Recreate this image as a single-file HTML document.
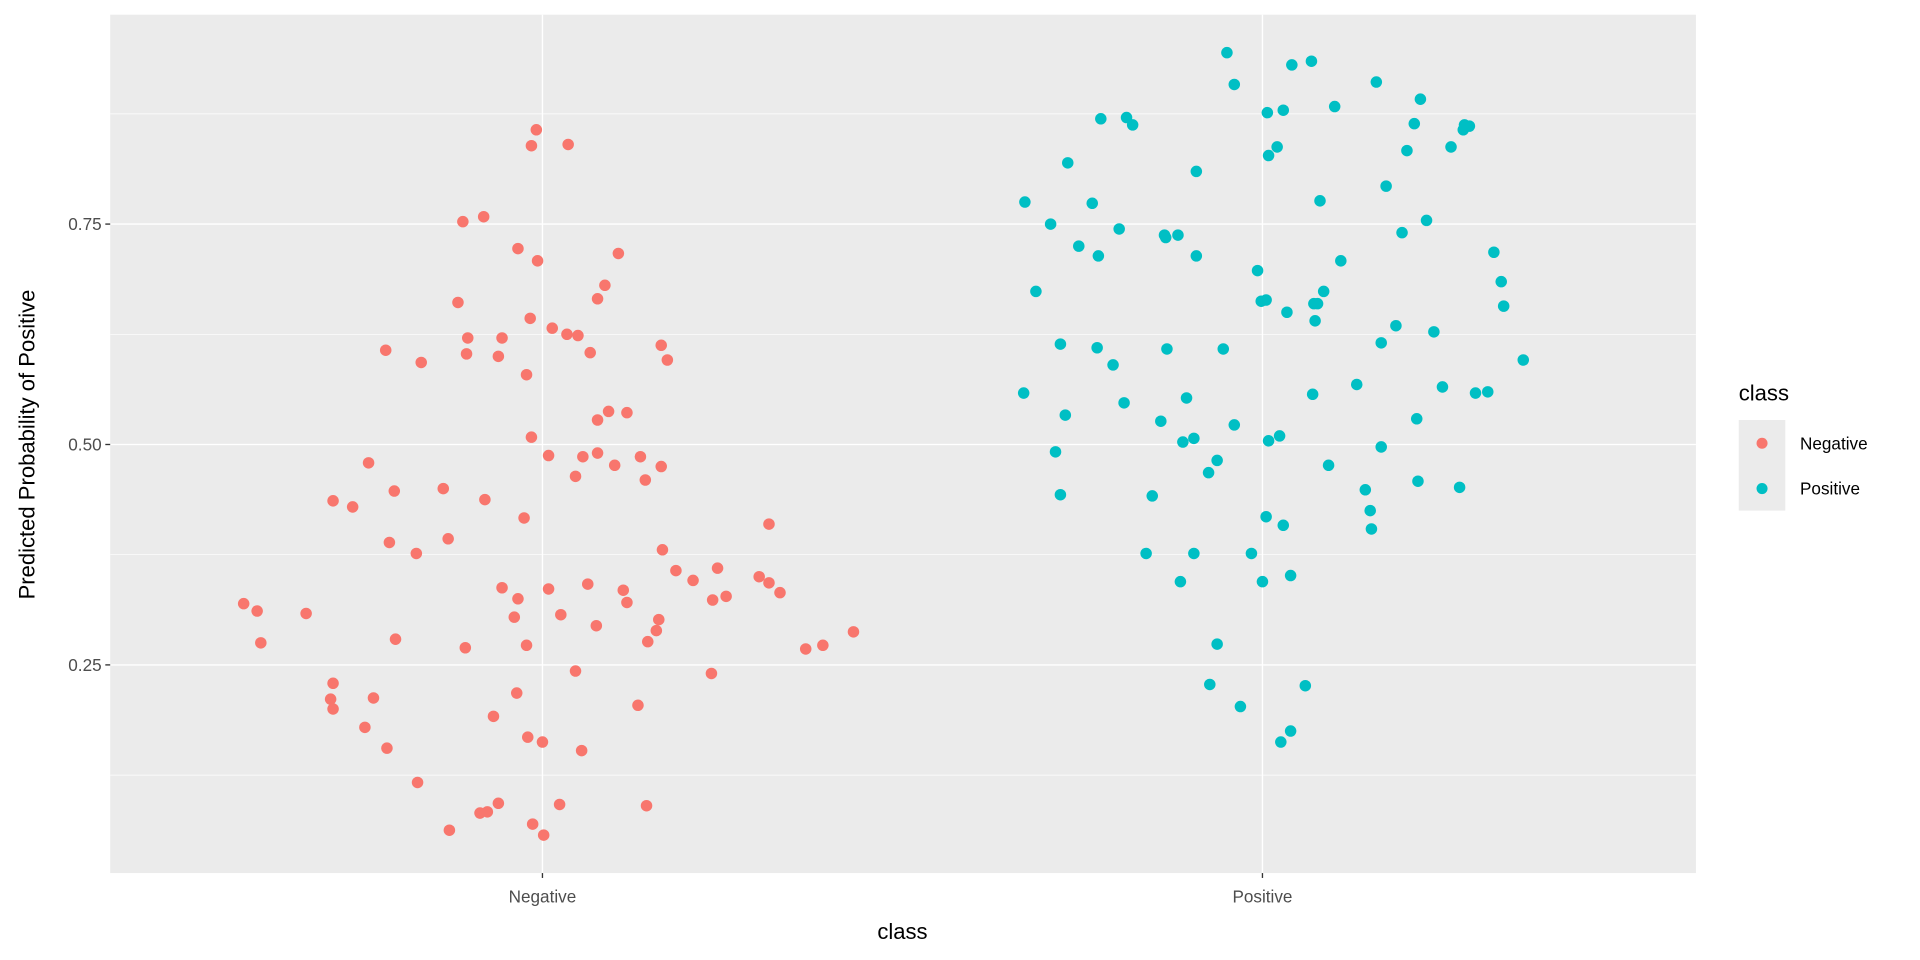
<!DOCTYPE html>
<html><head><meta charset="utf-8"><style>html,body{margin:0;padding:0;background:#fff;}svg{display:block;}</style></head>
<body>
<svg width="1920" height="960" viewBox="0 0 1568 784" xmlns="http://www.w3.org/2000/svg" font-family="Liberation Sans, sans-serif">
<rect x="0" y="0" width="1568" height="784" fill="#fff"/>
<rect x="90" y="12" width="1295" height="701" fill="#EBEBEB"/>
<g stroke="#fff" stroke-width="0.55">
<line x1="90" x2="1385" y1="633" y2="633"/><line x1="90" x2="1385" y1="453" y2="453"/><line x1="90" x2="1385" y1="273" y2="273"/><line x1="90" x2="1385" y1="93" y2="93"/>
</g>
<g stroke="#fff" stroke-width="1.1">
<line x1="90" x2="1385" y1="543" y2="543"/><line x1="90" x2="1385" y1="363" y2="363"/><line x1="90" x2="1385" y1="183" y2="183"/>
<line x1="443" x2="443" y1="12" y2="713"/><line x1="1031" x2="1031" y1="12" y2="713"/>
</g>
<g stroke="#333" stroke-width="1.1">
<line x1="86" x2="90" y1="543" y2="543"/><line x1="86" x2="90" y1="363" y2="363"/><line x1="86" x2="90" y1="183" y2="183"/>
<line x1="443" x2="443" y1="713" y2="717"/><line x1="1031" x2="1031" y1="713" y2="717"/>
</g>
<g fill="#4D4D4D" font-size="14" text-anchor="end">
<text x="83" y="548">0.25</text><text x="83" y="368">0.50</text><text x="83" y="188">0.75</text>
</g>
<g fill="#4D4D4D" font-size="14" text-anchor="middle">
<text x="443" y="737">Negative</text><text x="1031" y="737">Positive</text>
</g>
<text x="737" y="767" font-size="18" text-anchor="middle">class</text>
<text transform="translate(28,363) rotate(-90)" font-size="18" text-anchor="middle">Predicted Probability of Positive</text>
<g fill="#F8766D" id="neg">
<script type="text/plain"></script>
</g>
<text x="1420" y="327" font-size="18">class</text>
<rect x="1420" y="343" width="38" height="74" fill="#EBEBEB"/>
<circle cx="1439" cy="362" r="4.5" fill="#F8766D"/><circle cx="1439" cy="399" r="4.5" fill="#00BFC4"/>
<text x="1470" y="367" font-size="14">Negative</text><text x="1470" y="404" font-size="14">Positive</text>
<g fill="#F8766D">
<circle cx="438" cy="106" r="4.7"/><circle cx="434" cy="119" r="4.7"/><circle cx="464" cy="118" r="4.7"/><circle cx="378" cy="181" r="4.7"/><circle cx="395" cy="177" r="4.7"/><circle cx="423" cy="203" r="4.7"/><circle cx="439" cy="213" r="4.7"/><circle cx="505" cy="207" r="4.7"/><circle cx="374" cy="247" r="4.7"/><circle cx="494" cy="233" r="4.7"/><circle cx="488" cy="244" r="4.7"/><circle cx="433" cy="260" r="4.7"/><circle cx="451" cy="268" r="4.7"/><circle cx="463" cy="273" r="4.7"/><circle cx="472" cy="274" r="4.7"/><circle cx="410" cy="276" r="4.7"/><circle cx="382" cy="276" r="4.7"/><circle cx="315" cy="286" r="4.7"/><circle cx="344" cy="296" r="4.7"/><circle cx="381" cy="289" r="4.7"/><circle cx="407" cy="291" r="4.7"/><circle cx="482" cy="288" r="4.7"/><circle cx="540" cy="282" r="4.7"/><circle cx="545" cy="294" r="4.7"/><circle cx="430" cy="306" r="4.7"/><circle cx="497" cy="336" r="4.7"/><circle cx="512" cy="337" r="4.7"/><circle cx="488" cy="343" r="4.7"/><circle cx="301" cy="378" r="4.7"/><circle cx="272" cy="409" r="4.7"/><circle cx="288" cy="414" r="4.7"/><circle cx="322" cy="401" r="4.7"/><circle cx="362" cy="399" r="4.7"/><circle cx="396" cy="408" r="4.7"/><circle cx="434" cy="357" r="4.7"/><circle cx="476" cy="373" r="4.7"/><circle cx="488" cy="370" r="4.7"/><circle cx="448" cy="372" r="4.7"/><circle cx="502" cy="380" r="4.7"/><circle cx="523" cy="373" r="4.7"/><circle cx="540" cy="381" r="4.7"/><circle cx="470" cy="389" r="4.7"/><circle cx="527" cy="392" r="4.7"/><circle cx="428" cy="423" r="4.7"/><circle cx="318" cy="443" r="4.7"/><circle cx="366" cy="440" r="4.7"/><circle cx="340" cy="452" r="4.7"/><circle cx="541" cy="449" r="4.7"/><circle cx="552" cy="466" r="4.7"/><circle cx="566" cy="474" r="4.7"/><circle cx="586" cy="464" r="4.7"/><circle cx="620" cy="471" r="4.7"/><circle cx="628" cy="476" r="4.7"/><circle cx="637" cy="484" r="4.7"/><circle cx="628" cy="428" r="4.7"/><circle cx="582" cy="490" r="4.7"/><circle cx="593" cy="487" r="4.7"/><circle cx="199" cy="493" r="4.7"/><circle cx="210" cy="499" r="4.7"/><circle cx="250" cy="501" r="4.7"/><circle cx="213" cy="525" r="4.7"/><circle cx="323" cy="522" r="4.7"/><circle cx="380" cy="529" r="4.7"/><circle cx="410" cy="480" r="4.7"/><circle cx="423" cy="489" r="4.7"/><circle cx="420" cy="504" r="4.7"/><circle cx="430" cy="527" r="4.7"/><circle cx="448" cy="481" r="4.7"/><circle cx="458" cy="502" r="4.7"/><circle cx="480" cy="477" r="4.7"/><circle cx="509" cy="482" r="4.7"/><circle cx="512" cy="492" r="4.7"/><circle cx="487" cy="511" r="4.7"/><circle cx="538" cy="506" r="4.7"/><circle cx="536" cy="515" r="4.7"/><circle cx="529" cy="524" r="4.7"/><circle cx="470" cy="548" r="4.7"/><circle cx="581" cy="550" r="4.7"/><circle cx="658" cy="530" r="4.7"/><circle cx="672" cy="527" r="4.7"/><circle cx="697" cy="516" r="4.7"/><circle cx="272" cy="558" r="4.7"/><circle cx="270" cy="571" r="4.7"/><circle cx="272" cy="579" r="4.7"/><circle cx="305" cy="570" r="4.7"/><circle cx="298" cy="594" r="4.7"/><circle cx="316" cy="611" r="4.7"/><circle cx="403" cy="585" r="4.7"/><circle cx="422" cy="566" r="4.7"/><circle cx="521" cy="576" r="4.7"/><circle cx="431" cy="602" r="4.7"/><circle cx="443" cy="606" r="4.7"/><circle cx="475" cy="613" r="4.7"/><circle cx="341" cy="639" r="4.7"/><circle cx="367" cy="678" r="4.7"/><circle cx="392" cy="664" r="4.7"/><circle cx="398" cy="663" r="4.7"/><circle cx="407" cy="656" r="4.7"/><circle cx="435" cy="673" r="4.7"/><circle cx="444" cy="682" r="4.7"/><circle cx="457" cy="657" r="4.7"/><circle cx="528" cy="658" r="4.7"/>
</g>
<g fill="#00BFC4">
<circle cx="1002" cy="43" r="4.7"/><circle cx="1071" cy="50" r="4.7"/><circle cx="1055" cy="53" r="4.7"/><circle cx="1008" cy="69" r="4.7"/><circle cx="1124" cy="67" r="4.7"/><circle cx="1160" cy="81" r="4.7"/><circle cx="1090" cy="87" r="4.7"/><circle cx="1035" cy="92" r="4.7"/><circle cx="1048" cy="90" r="4.7"/><circle cx="920" cy="96" r="4.7"/><circle cx="899" cy="97" r="4.7"/><circle cx="925" cy="102" r="4.7"/><circle cx="1155" cy="101" r="4.7"/><circle cx="1196" cy="102" r="4.7"/><circle cx="1200" cy="103" r="4.7"/><circle cx="1195" cy="106" r="4.7"/><circle cx="1043" cy="120" r="4.7"/><circle cx="1036" cy="127" r="4.7"/><circle cx="1185" cy="120" r="4.7"/><circle cx="1149" cy="123" r="4.7"/><circle cx="872" cy="133" r="4.7"/><circle cx="977" cy="140" r="4.7"/><circle cx="1132" cy="152" r="4.7"/><circle cx="837" cy="165" r="4.7"/><circle cx="892" cy="166" r="4.7"/><circle cx="1078" cy="164" r="4.7"/><circle cx="1165" cy="180" r="4.7"/><circle cx="858" cy="183" r="4.7"/><circle cx="914" cy="187" r="4.7"/><circle cx="951" cy="192" r="4.7"/><circle cx="952" cy="194" r="4.7"/><circle cx="962" cy="192" r="4.7"/><circle cx="1145" cy="190" r="4.7"/><circle cx="881" cy="201" r="4.7"/><circle cx="897" cy="209" r="4.7"/><circle cx="977" cy="209" r="4.7"/><circle cx="1095" cy="213" r="4.7"/><circle cx="1220" cy="206" r="4.7"/><circle cx="1027" cy="221" r="4.7"/><circle cx="846" cy="238" r="4.7"/><circle cx="1226" cy="230" r="4.7"/><circle cx="1030" cy="246" r="4.7"/><circle cx="1034" cy="245" r="4.7"/><circle cx="1073" cy="248" r="4.7"/><circle cx="1076" cy="248" r="4.7"/><circle cx="1081" cy="238" r="4.7"/><circle cx="1051" cy="255" r="4.7"/><circle cx="1074" cy="262" r="4.7"/><circle cx="1140" cy="266" r="4.7"/><circle cx="1228" cy="250" r="4.7"/><circle cx="1171" cy="271" r="4.7"/><circle cx="866" cy="281" r="4.7"/><circle cx="896" cy="284" r="4.7"/><circle cx="1128" cy="280" r="4.7"/><circle cx="999" cy="285" r="4.7"/><circle cx="953" cy="285" r="4.7"/><circle cx="909" cy="298" r="4.7"/><circle cx="1244" cy="294" r="4.7"/><circle cx="1108" cy="314" r="4.7"/><circle cx="1178" cy="316" r="4.7"/><circle cx="1205" cy="321" r="4.7"/><circle cx="1215" cy="320" r="4.7"/><circle cx="836" cy="321" r="4.7"/><circle cx="918" cy="329" r="4.7"/><circle cx="1072" cy="322" r="4.7"/><circle cx="870" cy="339" r="4.7"/><circle cx="969" cy="325" r="4.7"/><circle cx="948" cy="344" r="4.7"/><circle cx="1157" cy="342" r="4.7"/><circle cx="1008" cy="347" r="4.7"/><circle cx="966" cy="361" r="4.7"/><circle cx="975" cy="358" r="4.7"/><circle cx="1045" cy="356" r="4.7"/><circle cx="1036" cy="360" r="4.7"/><circle cx="862" cy="369" r="4.7"/><circle cx="987" cy="386" r="4.7"/><circle cx="994" cy="376" r="4.7"/><circle cx="1128" cy="365" r="4.7"/><circle cx="1085" cy="380" r="4.7"/><circle cx="1115" cy="400" r="4.7"/><circle cx="1158" cy="393" r="4.7"/><circle cx="1192" cy="398" r="4.7"/><circle cx="866" cy="404" r="4.7"/><circle cx="941" cy="405" r="4.7"/><circle cx="1119" cy="417" r="4.7"/><circle cx="1120" cy="432" r="4.7"/><circle cx="1034" cy="422" r="4.7"/><circle cx="1048" cy="429" r="4.7"/><circle cx="936" cy="452" r="4.7"/><circle cx="975" cy="452" r="4.7"/><circle cx="1022" cy="452" r="4.7"/><circle cx="964" cy="475" r="4.7"/><circle cx="1031" cy="475" r="4.7"/><circle cx="1054" cy="470" r="4.7"/><circle cx="994" cy="526" r="4.7"/><circle cx="988" cy="559" r="4.7"/><circle cx="1013" cy="577" r="4.7"/><circle cx="1066" cy="560" r="4.7"/><circle cx="1054" cy="597" r="4.7"/><circle cx="1046" cy="606" r="4.7"/>
</g>
</svg>
</body></html>
